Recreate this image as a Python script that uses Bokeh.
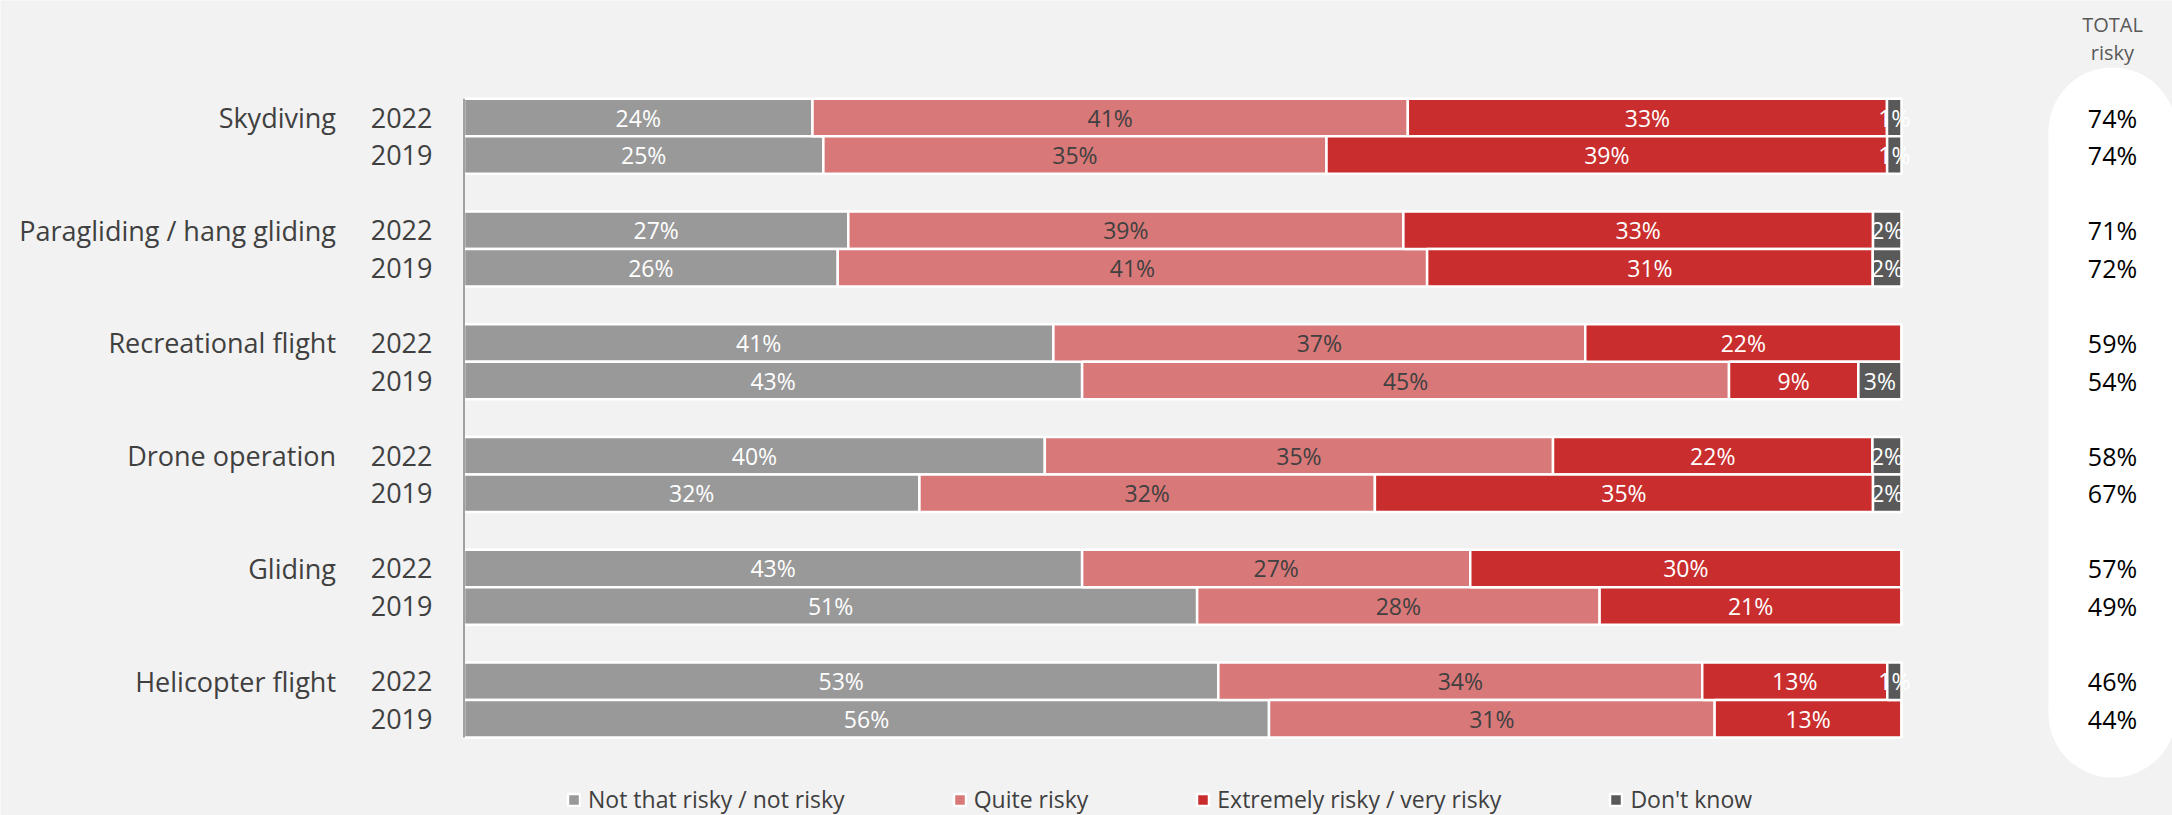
from bokeh.plotting import figure
from bokeh.models import ColumnDataSource, Range1d, Legend, LegendItem
from bokeh.core.properties import value
from bokeh.embed import file_html
from bokeh.resources import INLINE
import numpy as np

# ---------------- data ----------------
activities = ["Skydiving", "Paragliding / hang gliding", "Recreational flight",
              "Drone operation", "Gliding", "Helicopter flight"]
years = ["2022", "2019"]
series_names = ["Not that risky / not risky", "Quite risky",
                "Extremely risky / very risky", "Don't know"]
# order of bars: for every activity 2022 then 2019
not_risky = [24, 25, 27, 26, 41, 43, 40, 32, 43, 51, 53, 56]
quite_risky = [41, 35, 39, 41, 37, 45, 35, 32, 27, 28, 34, 31]
extremely_risky = [33, 39, 33, 31, 22, 9, 22, 35, 30, 21, 13, 13]
dont_know = [1, 1, 2, 2, 0, 3, 2, 2, 0, 0, 1, 0]
total_risky = [74, 74, 71, 72, 59, 54, 58, 67, 57, 49, 46, 44]

# ---------------- styles ----------------
colors = ["#999999", "#D97878", "#C92D2D", "#595959"]
label_colors = ["#FFFFFF", "#404040", "#FFFFFF", "#FFFFFF"]
FONT = value("Open Sans")
BG = "#F2F2F2"

W, H = 2172, 815
X0_PX = 463.5          # pixel of 0 %
PX_PER_PCT = 14.375    # pixels per percent
ROW0_PX = 117.0        # centre of first row
ROW_PX = 37.58         # row pitch


def px_x(px):
    return (px - X0_PX) / PX_PER_PCT


def px_y(py):
    return (py - ROW0_PX) / ROW_PX


p = figure(width=W, height=H, x_range=Range1d(px_x(0), px_x(W)),
           y_range=Range1d(px_y(H), px_y(0)),
           toolbar_location=None, output_backend="svg",
           x_axis_location=None, y_axis_location=None,
           min_border=0, background_fill_color=BG, border_fill_color=BG,
           outline_line_color=None)
p.xgrid.visible = False
p.ygrid.visible = False

n_groups = len(activities)
rows = [3 * g + k for g in range(n_groups) for k in range(len(years))]
year_labels = [years[k] for g in range(n_groups) for k in range(len(years))]

series = [np.array(not_risky, float), np.array(quite_risky, float),
          np.array(extremely_risky, float), np.array(dont_know, float)]
tot = sum(series)
norm = [s / tot * 100.0 for s in series]

# white pill behind totals
pill_x = px_x(2112)
pill_top = px_y(67 + 64)
pill_bot = px_y(777 - 64)
p.rect(x=[pill_x], y=[(pill_top + pill_bot) / 2], width=128,
       height=(777 - 64) - (67 + 64), width_units="screen", height_units="screen",
       fill_color="white", line_color=None)
p.scatter(x=[pill_x, pill_x], y=[pill_top, pill_bot], marker="circle", size=128,
          fill_color="white", line_color=None)

left = np.zeros(len(rows))
renderers = []
for i, name in enumerate(series_names):
    right = left + norm[i]
    src = ColumnDataSource(dict(y=rows, left=left, right=right, v=series[i]))
    r = p.hbar(y="y", left="left", right="right", height=1.0, source=src,
               fill_color=colors[i], line_color="white", line_width=2.5)
    renderers.append(r)
    mask = series[i] > 0
    lsrc = ColumnDataSource(dict(
        x=((left + right) / 2)[mask], y=np.array(rows)[mask],
        t=[f"{int(v)}%" for v in series[i][mask]]))
    p.text(x="x", y="y", text="t", source=lsrc, text_font=FONT,
           text_font_size="23px", text_color=label_colors[i],
           text_align="center", text_baseline="middle")
    left = right

# axis line
p.segment(x0=[0], y0=[rows[0] - 0.5], x1=[0], y1=[rows[-1] + 0.5],
          line_color="#A0A0A0", line_width=2)

# category labels
p.text(x=[0] * n_groups, y=[rows[2 * g] for g in range(n_groups)], text=activities,
       x_offset=-128, text_font=FONT, text_font_size="27px", text_color="#404040",
       text_align="right", text_baseline="middle")
# year labels
p.text(x=[0] * len(rows), y=rows, text=year_labels, x_offset=-31.5,
       text_font=FONT, text_font_size="27px", text_color="#404040",
       text_align="right", text_baseline="middle")

# totals
p.text(x=[pill_x] * len(rows), y=rows, text=[f"{t}%" for t in total_risky],
       text_font=FONT, text_font_size="25px", text_color="#000000",
       text_align="center", text_baseline="middle")
p.text(x=[pill_x, pill_x], y=[px_y(24), px_y(52)], text=["TOTAL", "risky"],
       text_font=FONT, text_font_size="20px", text_color="#595959",
       text_align="center", text_baseline="alphabetic")

legend = Legend(items=[LegendItem(label=n, renderers=[r])
                       for n, r in zip(series_names, renderers)],
                orientation="horizontal", location=(566, 0),
                spacing=107, glyph_width=15, glyph_height=15, label_standoff=7,
                padding=0, margin=0, border_line_color=None,
                background_fill_alpha=0, label_text_font="Open Sans",
                label_text_font_size="23px", label_text_color="#404040")
p.add_layout(legend)

open("out.html", "w").write(file_html(p, INLINE))
